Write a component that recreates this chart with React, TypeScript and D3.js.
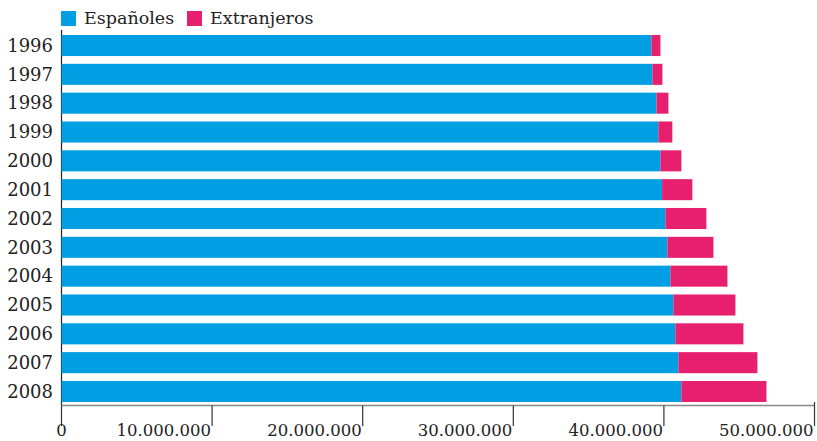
import React from "react";
import * as d3 from "d3";

const years = ["1996","1997","1998","1999","2000","2001","2002","2003","2004","2005","2006","2007","2008"];
const espanoles = [39.17,39.24,39.50,39.63,39.77,39.88,40.10,40.23,40.43,40.63,40.76,40.96,41.16].map(v => v * 1e6);
const extranjeros = [0.60,0.66,0.80,0.93,1.39,2.01,2.72,3.06,3.79,4.12,4.52,5.25,5.65].map(v => v * 1e6);
const tickValues = [0, 10e6, 20e6, 30e6, 40e6, 50e6];
const seriesNames = ["Españoles", "Extranjeros"];
const colors = ["#009fe3", "#e6206f"];

const W = 817, H = 441;
const FONT = "'DejaVu Serif', serif";

export default function App() {
  const x = d3.scaleLinear().domain([0, 50e6]).range([61.5, 814.5]);
  const y = d3.scaleBand().domain(years).range([31.1, 405.9]).paddingInner(0.27).paddingOuter(0.135);
  const fmt = (v: number) => v === 0 ? "0" : d3.format(",")(v).replace(/,/g, ".");
  const axisY = 405.5;
  return (
    <svg width={W} height={H} style={{ position: "absolute", left: 0, top: 0, background: "#fff" }} fontFamily={FONT}>
      {/* legend */}
      {seriesNames.map((n, i) => {
        const lx = [61, 187][i];
        return (
          <g key={n}>
            <rect x={lx} y={11} width={15} height={15} fill={colors[i]} />
            <text x={lx + 23} y={24} fontSize={17.5} fill="#222">{n}</text>
          </g>
        );
      })}
      {/* y axis line */}
      <line x1={61.5} x2={61.5} y1={30} y2={axisY} stroke="#222" strokeWidth={1.2} />
      {/* bars */}
      {years.map((yr, i) => {
        const y0 = y(yr)!;
        const bw = y.bandwidth();
        return (
          <g key={yr}>
            <rect x={x(0)} y={y0} width={x(espanoles[i]) - x(0)} height={bw} fill={colors[0]} />
            <rect x={x(espanoles[i])} y={y0} width={x(espanoles[i] + extranjeros[i]) - x(espanoles[i])} height={bw} fill={colors[1]} />
            <text x={53} y={y0 + bw / 2} dy="0.35em" textAnchor="end" fontSize={18} fill="#222">{yr}</text>
          </g>
        );
      })}
      {/* x axis */}
      <line x1={61} x2={815} y1={axisY} y2={axisY} stroke="#888" strokeWidth={1.5} />
      {tickValues.map((t, i) => (
        <g key={t}>
          <line x1={x(t)} x2={x(t)} y1={i === tickValues.length - 1 ? 402 : axisY} y2={426} stroke="#333" strokeWidth={1.2} />
          <text x={i === 0 ? x(t) : x(t) - 1} y={436} textAnchor={i === 0 ? "middle" : "end"} fontSize={16.5} fill="#222">{fmt(t)}</text>
        </g>
      ))}
    </svg>
  );
}
